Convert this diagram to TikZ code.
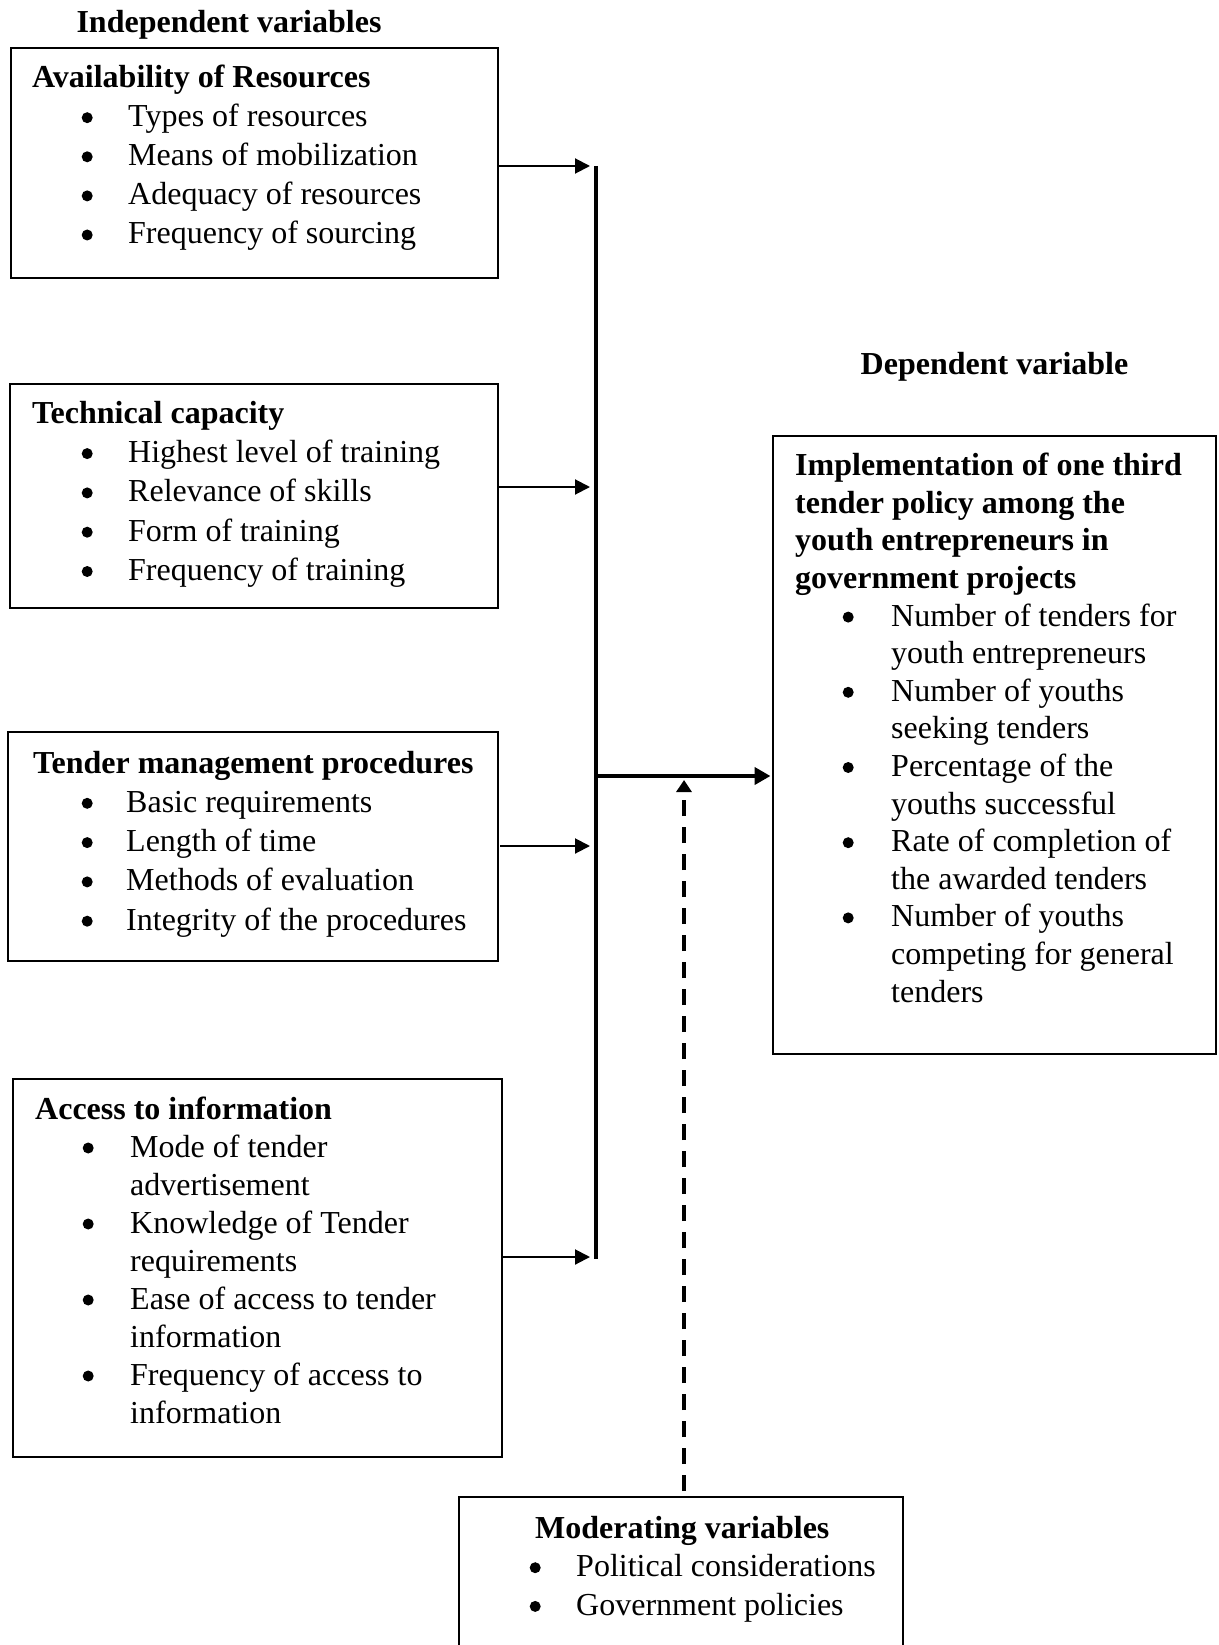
\documentclass[tikz,border=0pt]{standalone}
\usepackage{fontspec}
\setmainfont{Liberation Serif}
\usetikzlibrary{arrows.meta}
\newdimen\bx \newdimen\tx
\newcommand{\ttl}[1]{\hbox{\bfseries #1}}
\newcommand{\bit}[1]{\hbox{\kern\bx\makebox[0pt]{\tikz[baseline=0pt]\fill (0pt,9pt) circle (5.5pt);}\kern-\bx\kern\tx #1}}
\newcommand{\cnt}[1]{\hbox{\kern\tx #1}}
\newcommand{\blk}[4]{\vtop{\bx=#1\relax\tx=#2\relax\baselineskip=#3\relax\lineskiplimit=-100pt\lineskip=0pt #4}}
\tikzset{
  box/.style={draw, line width=2pt, rectangle, inner sep=0pt},
  txt/.style={anchor=base west, inner sep=0pt},
  head/.style={anchor=base, inner sep=0pt, font=\fontsize{32}{39}\selectfont\bfseries},
  thinarrow/.style={line width=2pt, -{Triangle[length=15pt,width=15pt]}},
  thickarrow/.style={line width=4.5pt, -{Triangle[length=16pt,width=17pt]}},
  bar/.style={line width=3.5pt},
  dasharrow/.style={line width=4pt, dash pattern=on 16pt off 11pt, dash phase=22pt, -{Triangle[length=12pt,width=15pt]}}
}
\begin{document}
\begin{tikzpicture}[x=1pt,y=-1pt, font=\fontsize{32}{39}\selectfont]
\useasboundingbox (0,0) rectangle (1218,1645);
\fill[white] (0,0) rectangle (1218,1645);

% headings
\node[head] (hind) at (229,33) {Independent variables};
\node[head] (hdep) at (994.5,374) {Dependent variable};

% boxes
\node[box, minimum width=487pt, minimum height=230pt] (b1) at (254.5,163) {};
\node[box, minimum width=488pt, minimum height=224pt] (b2) at (254,496) {};
\node[box, minimum width=490pt, minimum height=229pt] (b3) at (253,846.5) {};
\node[box, minimum width=489pt, minimum height=378pt] (b4) at (257.5,1268) {};
\node[box, minimum width=443pt, minimum height=618pt] (dep) at (994.5,745) {};
\node[box, minimum width=444pt, minimum height=183pt] (mod) at (681,1588.5) {};

% texts
\node[txt] (t1) at (32,87.6) {\blk{55pt}{96pt}{39.1pt}{%
  \ttl{Availability of Resources}
  \bit{Types of resources}
  \bit{Means of mobilization}
  \bit{Adequacy of resources}
  \bit{Frequency of sourcing}}};
\node[txt] (t2) at (32,423.3) {\blk{55pt}{96pt}{39.3pt}{%
  \ttl{Technical capacity}
  \bit{Highest level of training}
  \bit{Relevance of skills}
  \bit{Form of training}
  \bit{Frequency of training}}};
\node[txt] (t3) at (33,773) {\blk{54pt}{93pt}{39.3pt}{%
  \ttl{Tender management procedures}
  \bit{Basic requirements}
  \bit{Length of time}
  \bit{Methods of evaluation}
  \bit{Integrity of the procedures}}};
\node[txt] (t4) at (35,1119) {\blk{53pt}{95pt}{38pt}{%
  \ttl{Access to information}
  \bit{Mode of tender}
  \cnt{advertisement}
  \bit{Knowledge of Tender}
  \cnt{requirements}
  \bit{Ease of access to tender}
  \cnt{information}
  \bit{Frequency of access to}
  \cnt{information}}};
\node[txt] (t5) at (795,475.7) {\blk{53pt}{96pt}{37.6pt}{%
  \ttl{Implementation of one third}
  \ttl{tender policy among the}
  \ttl{youth entrepreneurs in}
  \ttl{government projects}
  \bit{Number of tenders for}
  \cnt{youth entrepreneurs}
  \bit{Number of youths}
  \cnt{seeking tenders}
  \bit{Percentage of the}
  \cnt{youths successful}
  \bit{Rate of completion of}
  \cnt{the awarded tenders}
  \bit{Number of youths}
  \cnt{competing for general}
  \cnt{tenders}}};
\node[txt] (t6) at (535,1538) {\blk{0pt}{41pt}{38.7pt}{%
  \ttl{Moderating variables}
  \bit{Political considerations}
  \bit{Government policies}}};

% junction coordinates
\coordinate (j1) at (590,166);
\coordinate (j2) at (590,487);
\coordinate (j3) at (590,846);
\coordinate (j4) at (590,1257);
\coordinate (bartop) at (596,166);
\coordinate (barbot) at (596,1259);
\coordinate (m) at (596,776);
\coordinate (mt) at (684,780);

% connectors
\draw[thinarrow] (j1 -| b1.east) -- (j1);
\draw[thinarrow] (j2 -| b2.east) -- (j2);
\draw[thinarrow] (j3 -| b3.east) ++(1,0) -- (j3);
\draw[thinarrow] (j4 -| b4.east) -- (j4);
\draw[bar] (bartop) -- (barbot);
\draw[thickarrow, shorten >=1.5pt] (m) -- (m -| dep.west);
\draw[dasharrow] (mod.north -| mt) -- (mt);
\end{tikzpicture}
\end{document}
